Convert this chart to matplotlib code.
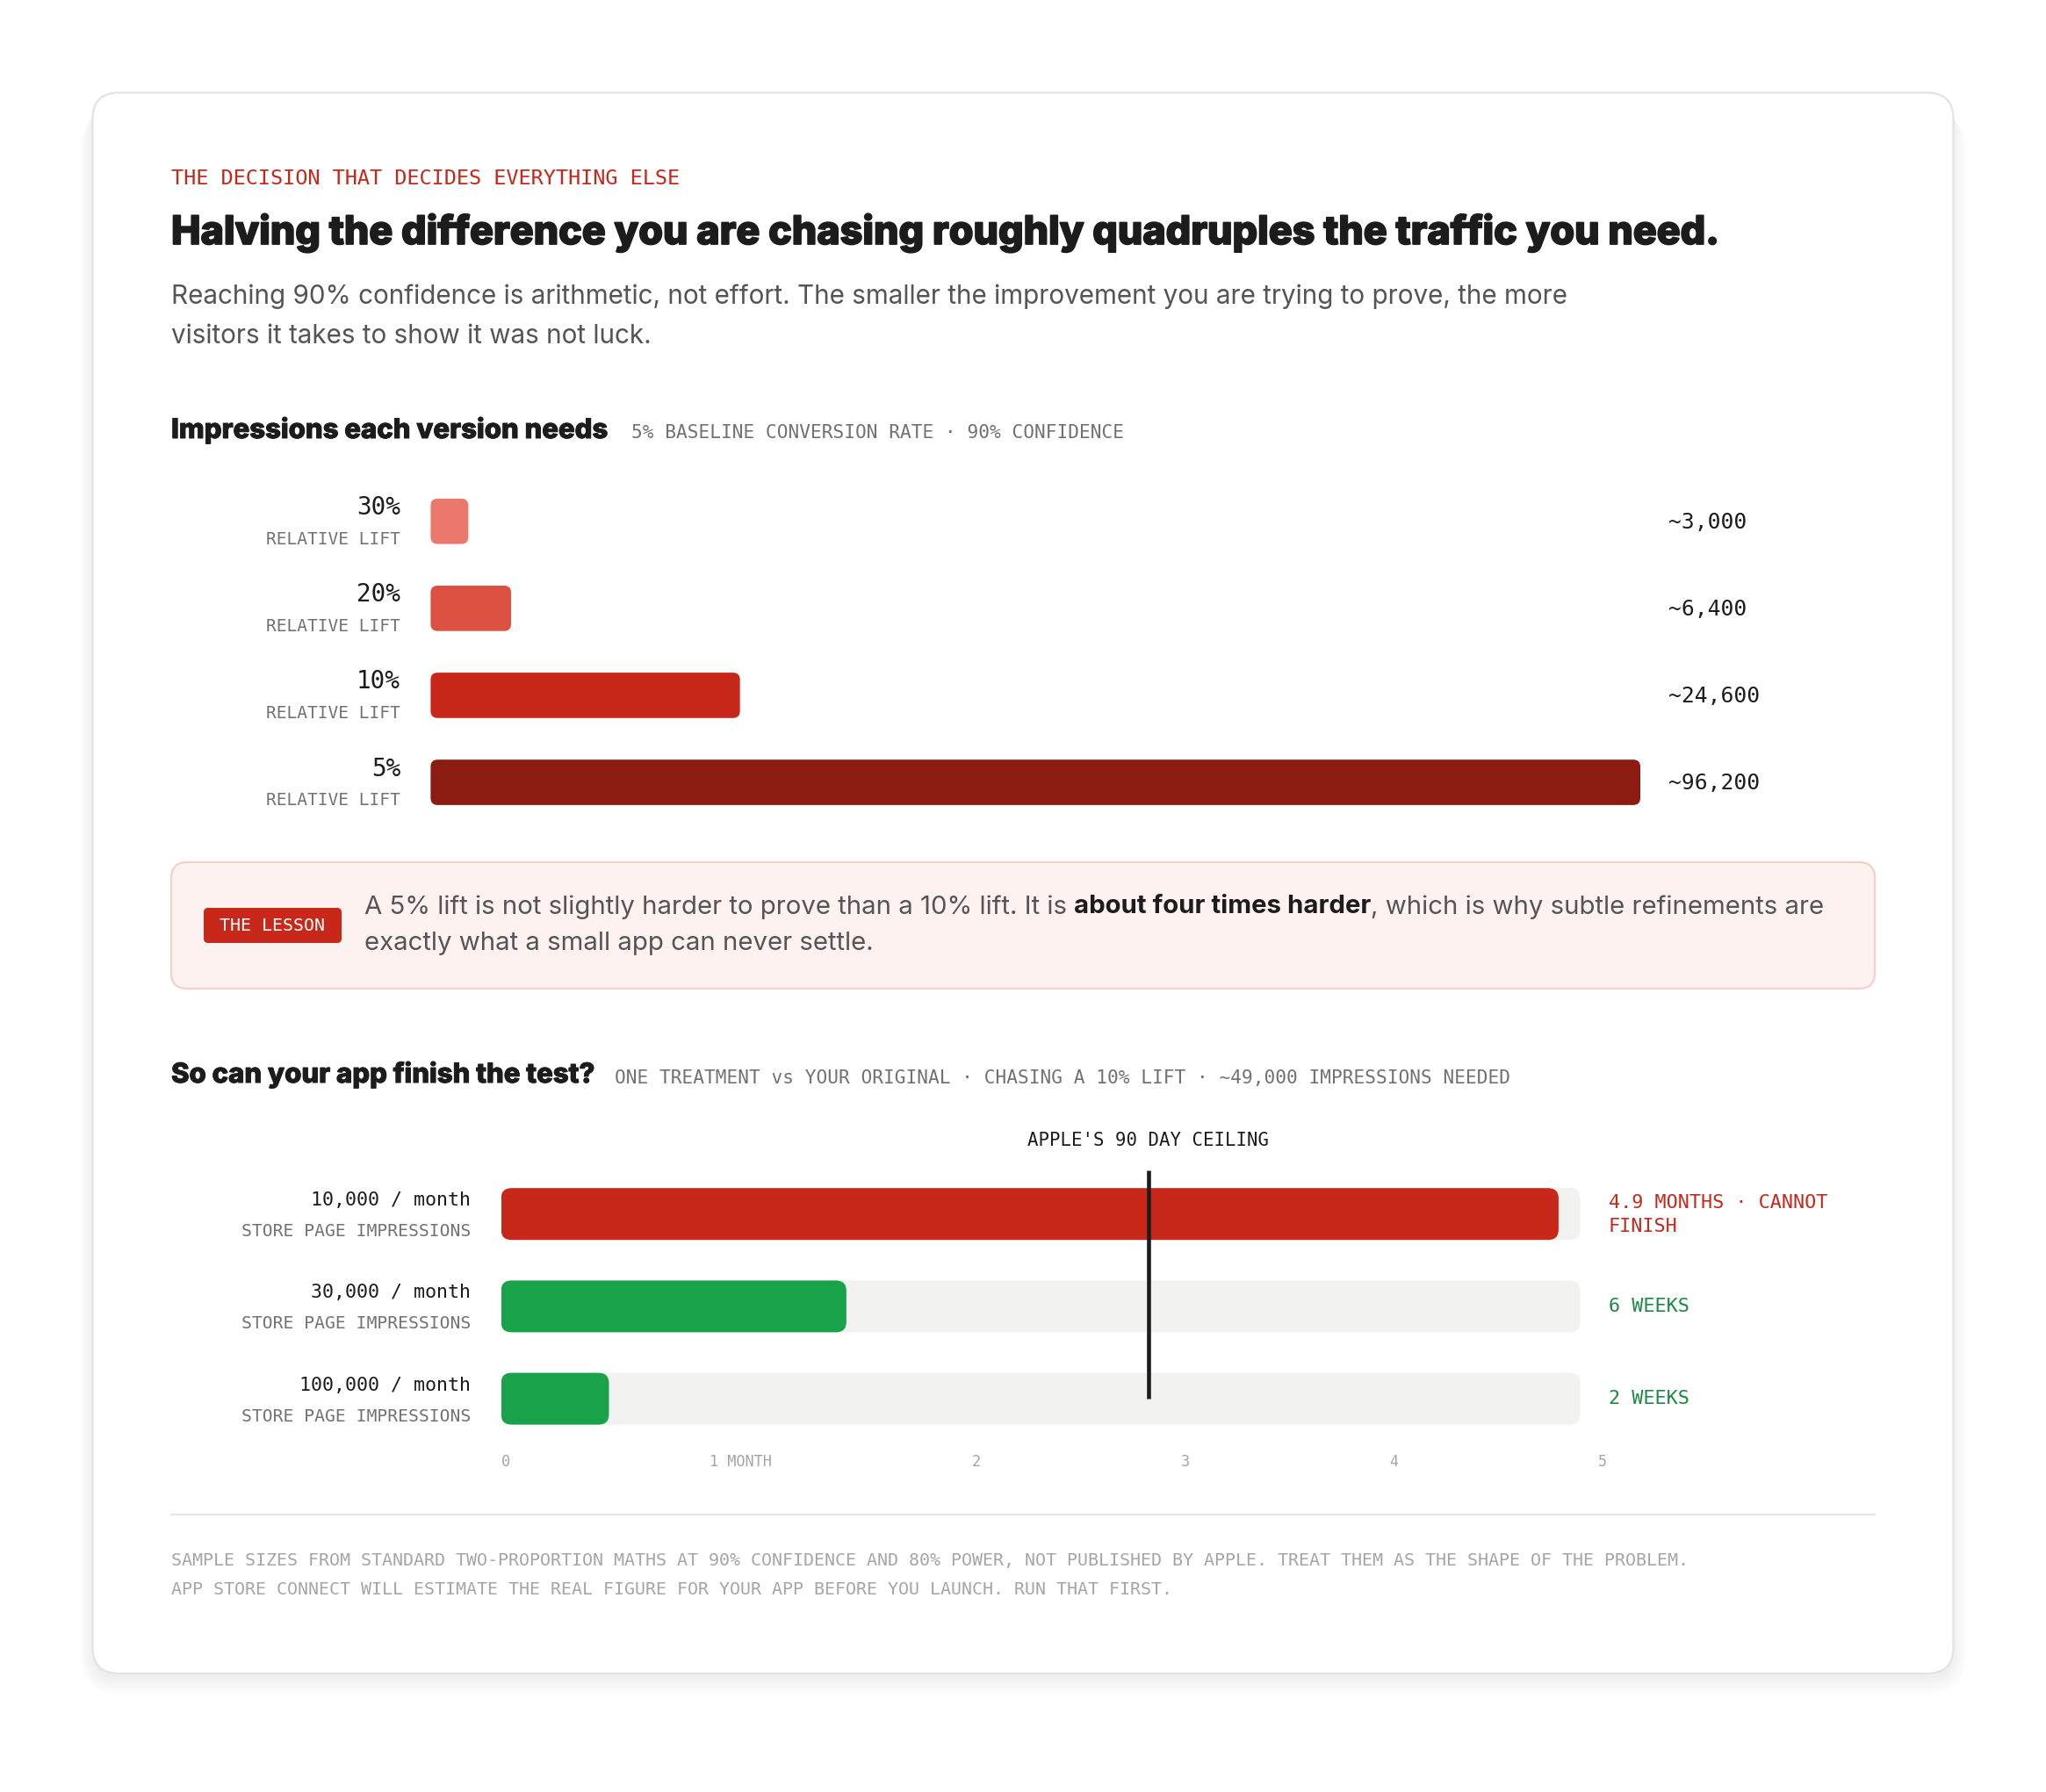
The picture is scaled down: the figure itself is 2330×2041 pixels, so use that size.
import matplotlib
matplotlib.use("Agg")
import matplotlib.pyplot as plt
from matplotlib.patches import FancyBboxPatch
import matplotlib.patheffects as pe

W, H, DPI = 2330, 2041, 100

SANS = ["Inter", "DejaVu Sans"]
MONO = ["DejaVu Sans Mono"]
INK = "#1c1c1c"
BODY = "#555555"
GREY = "#727272"
LIGHT = "#a6a6a6"
RED = "#c8281a"

# ---- data ----
eyebrow = "THE DECISION THAT DECIDES EVERYTHING ELSE"
title = "Halving the difference you are chasing roughly quadruples the traffic you need."
subtitle = ["Reaching 90% confidence is arithmetic, not effort. The smaller the improvement you are trying to prove, the more",
            "visitors it takes to show it was not luck."]

head1 = "Impressions each version needs"
sub1 = "5% BASELINE CONVERSION RATE · 90% CONFIDENCE"
lifts = ["30%", "20%", "10%", "5%"]
impressions = [3000, 6400, 24600, 96200]
impression_text = ["~3,000", "~6,400", "~24,600", "~96,200"]
lift_colors = ["#eb786c", "#db5243", "#c8281a", "#8c1c12"]

lesson_parts = [("A 5% lift is not slightly harder to prove than a 10% lift. It is ", "normal", BODY),
                ("about four times harder", "bold", INK),
                (", which is why subtle refinements are", "normal", BODY)]
lesson_line2 = "exactly what a small app can never settle."

head2 = "So can your app finish the test?"
sub2 = "ONE TREATMENT vs YOUR ORIGINAL · CHASING A 10% LIFT · ~49,000 IMPRESSIONS NEEDED"
traffic = ["10,000 / month", "30,000 / month", "100,000 / month"]
months_needed = [4.9, 1.6, 0.5]
outcomes = [["4.9 MONTHS · CANNOT", "FINISH"], ["6 WEEKS"], ["2 WEEKS"]]
outcome_colors = ["#c8281a", "#1a8a43", "#1a8a43"]
traffic_colors = ["#c8281a", "#18a34a", "#18a34a"]
month_ticks = ["0", "1 MONTH", "2", "3", "4", "5"]
max_months = 5
ceiling_months = 90 / 30

footnote = ["SAMPLE SIZES FROM STANDARD TWO-PROPORTION MATHS AT 90% CONFIDENCE AND 80% POWER, NOT PUBLISHED BY APPLE. TREAT THEM AS THE SHAPE OF THE PROBLEM.",
            "APP STORE CONNECT WILL ESTIMATE THE REAL FIGURE FOR YOUR APP BEFORE YOU LAUNCH. RUN THAT FIRST."]

# ---- layout (pixels, from top-left) ----
LEFT, RIGHT = 195, 2135
ROW1_TOP, ROW1_STEP = 544.2, 99.1
BAR1_X0, BAR1_X1 = 490.4, 1868
ROW2_TOP, ROW2_STEP = 1330.1, 105.2
BAR2_X0, BAR2_X1 = 570.6, 1799.5

fig = plt.figure(figsize=(W / DPI, H / DPI), dpi=DPI)
fig.patch.set_facecolor("white")
bg = fig.add_axes([0, 0, 1, 1])
bg.set_xlim(0, W)
bg.set_ylim(H, 0)
bg.axis("off")
renderer = fig.canvas.get_renderer()
heavy = [pe.withStroke(linewidth=1.3, foreground=INK)]
semi = [pe.withStroke(linewidth=0.7, foreground=INK)]


def width_of(s, size, family, weight="normal"):
    t = bg.text(0, 0, s, fontsize=size, family=family, fontweight=weight)
    w = t.get_window_extent(renderer).width
    t.remove()
    return w


def fit(s, target, family, weight="normal", factor=1.0):
    return 20 * target / width_of(s, 20, family, weight) * factor


def put(x, y, s, size, color, family=SANS, weight="normal", ha="left", va="center", effects=None):
    t = bg.text(x, y, s, fontsize=size, color=color, family=family,
                fontweight=weight, ha=ha, va=va)
    if effects:
        t.set_path_effects(effects)
    return t


def rbox(x, y, w, h, r, fc, ec="none", lw=0, z=1, alpha=1):
    bg.add_patch(FancyBboxPatch((x, y), w, h, boxstyle=f"round,pad=0,rounding_size={r}",
                                fc=fc, ec=ec, lw=lw, zorder=z, alpha=alpha))


def px_axes(left, top, right, bottom):
    ax = fig.add_axes([left / W, 1 - bottom / H, (right - left) / W, (bottom - top) / H])
    ax.set_facecolor("none")
    ax.axis("off")
    return ax


def rounded_bar(ax, wpx, hpx, y, width, height, color, r_px, z=2):
    x0, x1 = ax.get_xlim()
    y0, y1 = ax.get_ylim()
    xpp = abs(x1 - x0) / wpx
    ypp = abs(y1 - y0) / hpx
    aspect = ypp / xpp
    r = min(r_px * xpp, width / 2, height / (2 * aspect))
    ax.add_patch(FancyBboxPatch((0, y - height / 2), width, height,
                                boxstyle=f"round,pad=0,rounding_size={r}",
                                mutation_aspect=aspect, fc=color, ec="none", zorder=z))


# ---- card with soft shadow ----
for k in range(8):
    rbox(105 - k * 2, 112 + k * 2.5, 2120 + k * 4, 1800, 30 + k * 2, "#000000", z=0, alpha=0.006)
rbox(105.5, 105.5, 2119, 1800.5, 30, "white", ec="#e3e3e3", lw=1.6, z=1)

# ---- header ----
put(LEFT, 203, eyebrow, fit(eyebrow, 581, MONO), RED, MONO)
put(LEFT, 265, title, fit(title, 1762, SANS, "heavy"), INK, SANS, "heavy", effects=heavy)
sub_size = fit(subtitle[0], 1593, SANS)
put(LEFT, 338, subtitle[0], sub_size, BODY)
put(LEFT, 383, subtitle[1], sub_size, BODY)

# ---- section 1 ----
head_size = fit(head1, 497, SANS, "heavy")
mono_sub = fit(sub1, 560, MONO)
put(LEFT, 490, head1, head_size, INK, SANS, "heavy", effects=semi)
put(719, 493, sub1, mono_sub, GREY, MONO)

ax1 = px_axes(BAR1_X0, ROW1_TOP, BAR1_X1, ROW1_TOP + 4 * ROW1_STEP)
ax1.set_xlim(0, max(impressions))
ax1.set_ylim(len(lifts) - 0.5, -0.5)
for i, (v, c) in enumerate(zip(impressions, lift_colors)):
    rounded_bar(ax1, BAR1_X1 - BAR1_X0, 4 * ROW1_STEP, i, v, 51.7 / ROW1_STEP, c, 8)

lift_size = fit("30%", 50, MONO)
small_size = fit("RELATIVE LIFT", 153, MONO)
val_size = fit("~24,600", 104, MONO)
for i, (lab, vt) in enumerate(zip(lifts, impression_text)):
    cy = ROW1_TOP + (i + 0.5) * ROW1_STEP
    put(456, cy - 15.5, lab, lift_size, INK, MONO, ha="right")
    put(456, cy + 20.5, "RELATIVE LIFT", small_size, GREY, MONO, ha="right")
    put(1900, cy + 1, vt, val_size, INK, MONO)

# ---- lesson box ----
rbox(LEFT, 982, RIGHT - LEFT, 144, 18, "#fdf2f0", ec="#f2d1cb", lw=1.6, z=2)
rbox(232, 1034, 157, 40, 5, RED, z=3)
put(310.5, 1055, "THE LESSON", fit("THE LESSON", 120, MONO), "white", MONO, ha="center")

base = 20
total = sum(width_of(s + ".", base, SANS, wt) - width_of(".", base, SANS, wt) for s, wt, _ in lesson_parts)
lesson_size = base * 1664 / total
x = 414.6
for s, wt, col in lesson_parts:
    put(x, 1033, s, lesson_size, col, SANS, wt)
    x += width_of(s + ".", lesson_size, SANS, wt) - width_of(".", lesson_size, SANS, wt)
put(414.6, 1075, lesson_line2, lesson_size, BODY)

# ---- section 2 ----
put(LEFT, 1224, head2, head_size, INK, SANS, "heavy", effects=semi)
put(700, 1228, sub2, mono_sub, GREY, MONO)

ax2 = px_axes(BAR2_X0, ROW2_TOP, BAR2_X1, ROW2_TOP + 3 * ROW2_STEP)
ax2.set_xlim(0, max_months)
ax2.set_ylim(len(traffic) - 0.5, -0.5)
w2, h2 = BAR2_X1 - BAR2_X0, 3 * ROW2_STEP
bh2 = 59 / ROW2_STEP
for i, (m, c) in enumerate(zip(months_needed, traffic_colors)):
    rounded_bar(ax2, w2, h2, i, max_months, bh2, "#f2f2f0", 12, z=1)
    rounded_bar(ax2, w2, h2, i, m, bh2, c, 12, z=2)
ax2.plot([ceiling_months, ceiling_months], [-0.475, len(traffic) - 1], color=INK, lw=3.3,
         solid_capstyle="butt", zorder=5, clip_on=False)
ax2.text(ceiling_months, -0.5 - 31 / ROW2_STEP, "APPLE'S 90 DAY CEILING",
         fontsize=fit("APPLE'S 90 DAY CEILING", 276, MONO), family=MONO,
         color=INK, ha="center", va="center")

tr_size = fit("10,000 / month", 183, MONO)
st_size = fit("STORE PAGE IMPRESSIONS", 260, MONO)
out_size = fit("4.9 MONTHS · CANNOT", 250, MONO)
for i, (lab, out, oc) in enumerate(zip(traffic, outcomes, outcome_colors)):
    cy = ROW2_TOP + (i + 0.5) * ROW2_STEP
    put(536, cy - 15.5, lab, tr_size, INK, MONO, ha="right")
    put(536, cy + 20, "STORE PAGE IMPRESSIONS", st_size, GREY, MONO, ha="right")
    if len(out) == 2:
        put(1832, cy - 12.5, out[0], out_size, oc, MONO)
        put(1832, cy + 14.5, out[1], out_size, oc, MONO)
    else:
        put(1832, cy, out[0], out_size, oc, MONO)

# month labels spread across the track like a space-between row
tick_size = fit("1 MONTH", 71, MONO)
tw = [width_of(t, tick_size, MONO) for t in month_ticks]
gap = (1830 - BAR2_X0 - sum(tw)) / (len(month_ticks) - 1)
x = BAR2_X0
for t, w in zip(month_ticks, tw):
    put(x, 1665, t, tick_size, LIGHT, MONO)
    x += w + gap

# ---- footer ----
bg.plot([LEFT, RIGHT], [1725, 1725], color="#e6e6e6", lw=1.6)
foot_size = fit(footnote[0], 1734, MONO)
put(LEFT, 1777, footnote[0], foot_size, LIGHT, MONO)
put(LEFT, 1810, footnote[1], foot_size, LIGHT, MONO)

fig.savefig("out.png", dpi=DPI, facecolor="white")
